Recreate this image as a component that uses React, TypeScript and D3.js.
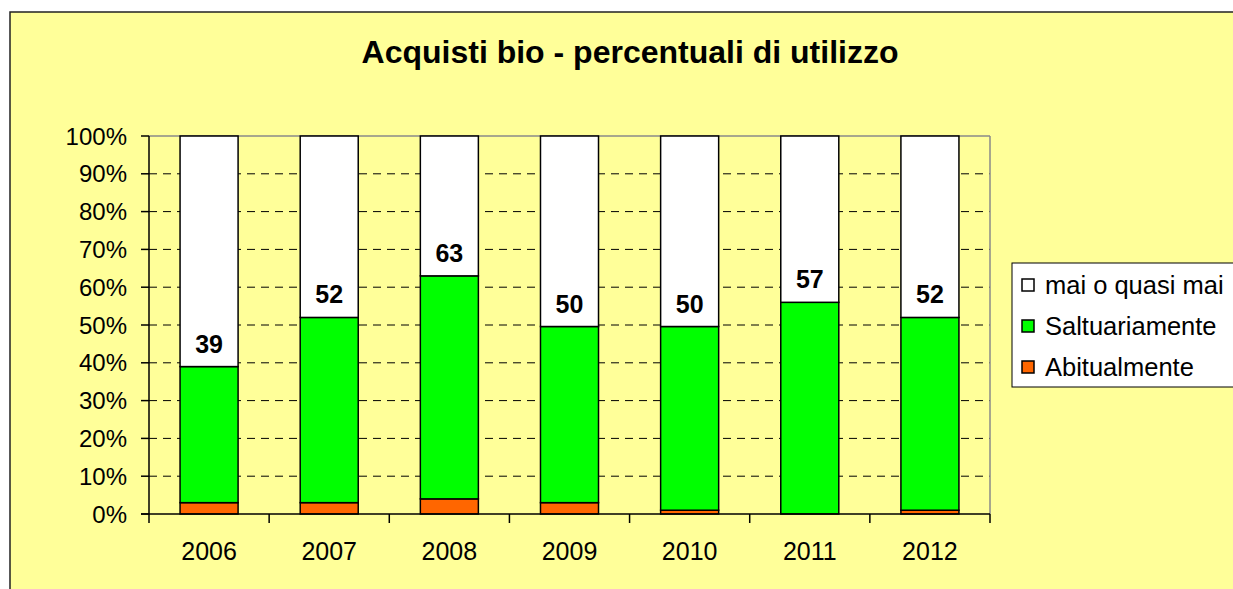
import React from "react";
import { scaleBand, scaleLinear, range } from "d3";

const years = ["2006", "2007", "2008", "2009", "2010", "2011", "2012"];
const abitualmente = [3, 3, 4, 3, 1, 0, 1];
const saltuariamente = [36, 49, 59, 46.6, 48.6, 56, 51];
const labels = [39, 52, 63, 50, 50, 57, 52];
const yTicks = [0, 10, 20, 30, 40, 50, 60, 70, 80, 90, 100];

const seriesNames = ["mai o quasi mai", "Saltuariamente", "Abitualmente"];
const seriesColors = ["#FFFFFF", "#00FF00", "#FF6600"];

const font = "'Liberation Sans', Arial, sans-serif";

function App() {
  const w = 1233;
  const h = 589;
  const plot = { left: 149, right: 990, top: 136, bottom: 514 };

  const x = scaleBand()
    .domain(years)
    .range([plot.left, plot.right])
    .paddingInner(0.517)
    .paddingOuter(0.2585);
  const step = x.step();

  const y = scaleLinear().domain([0, 100]).range([plot.bottom, plot.top]);

  const stacked = years.map((yr, i) => {
    const a = abitualmente[i];
    const s = saltuariamente[i];
    return {
      year: yr,
      segs: [
        { key: 2, y0: 0, y1: a },
        { key: 1, y0: a, y1: a + s },
        { key: 0, y0: a + s, y1: 100 },
      ],
      label: labels[i],
      top: a + s,
    };
  });

  return (
    <svg
      width={w}
      height={h}
      style={{ position: "absolute", left: 0, top: 0, background: "#fff" }}
    >
      <rect x={10} y={12} width={1240} height={600} fill="#FFFF99" stroke="#222" strokeWidth={1.5} />

      <text
        x={630}
        y={63}
        textAnchor="middle"
        fontFamily={font}
        fontWeight="bold"
        fontSize={32}
      >
        Acquisti bio - percentuali di utilizzo
      </text>

      {/* grid */}
      {yTicks.filter((t) => t > 0 && t < 100).map((t) => (
        <line
          key={"g" + t}
          x1={plot.left}
          x2={plot.right}
          y1={y(t)}
          y2={y(t)}
          stroke="#000"
          strokeWidth={1}
          strokeDasharray="8,6"
        />
      ))}
      <line x1={plot.left} x2={plot.right} y1={plot.top} y2={plot.top} stroke="#8a8a8a" strokeWidth={1.5} />
      <line x1={plot.right} x2={plot.right} y1={plot.top} y2={plot.bottom} stroke="#8a8a8a" strokeWidth={1.5} />

      {/* bars */}
      {stacked.map((d) => (
        <g key={d.year}>
          {d.segs.map((s) =>
            s.y1 > s.y0 ? (
              <rect
                key={s.key}
                x={x(d.year)}
                width={x.bandwidth()}
                y={y(s.y1)}
                height={y(s.y0) - y(s.y1)}
                fill={seriesColors[s.key]}
                stroke="#000"
                strokeWidth={1.5}
              />
            ) : null
          )}
          <text
            x={(x(d.year) as number) + x.bandwidth() / 2}
            y={y(d.top) - 14}
            textAnchor="middle"
            fontFamily={font}
            fontWeight="bold"
            fontSize={25}
          >
            {d.label}
          </text>
        </g>
      ))}

      {/* y axis */}
      <line x1={plot.left} x2={plot.left} y1={plot.top} y2={plot.bottom} stroke="#000" strokeWidth={1.5} />
      {yTicks.map((t) => (
        <g key={"y" + t}>
          <line x1={plot.left - 8} x2={plot.left} y1={y(t)} y2={y(t)} stroke="#000" strokeWidth={1.5} />
          <text
            x={127}
            y={y(t)}
            dy="0.36em"
            textAnchor="end"
            fontFamily={font}
            fontSize={24}
          >
            {t + "%"}
          </text>
        </g>
      ))}

      {/* x axis */}
      <line x1={plot.left - 8} x2={plot.right} y1={plot.bottom} y2={plot.bottom} stroke="#000" strokeWidth={1.5} />
      {range(years.length + 1).map((i) => (
        <line
          key={"xt" + i}
          x1={plot.left + i * step}
          x2={plot.left + i * step}
          y1={plot.bottom}
          y2={plot.bottom + 9}
          stroke="#000"
          strokeWidth={1.5}
        />
      ))}
      {years.map((yr) => (
        <text
          key={"xl" + yr}
          x={(x(yr) as number) + x.bandwidth() / 2}
          y={560}
          textAnchor="middle"
          fontFamily={font}
          fontSize={25}
        >
          {yr}
        </text>
      ))}

      {/* legend */}
      <rect x={1012} y={263} width={240} height={124} fill="#fff" stroke="#000" strokeWidth={1} />
      {seriesNames.map((name, i) => (
        <g key={name} transform={`translate(1022, ${285 + i * 41})`}>
          <rect x={0} y={-6} width={12} height={12} fill={seriesColors[i]} stroke="#000" strokeWidth={1.5} />
          <text x={23} y={0} dy="0.36em" fontFamily={font} fontSize={25.5}>
            {name}
          </text>
        </g>
      ))}
    </svg>
  );
}

export default App;
